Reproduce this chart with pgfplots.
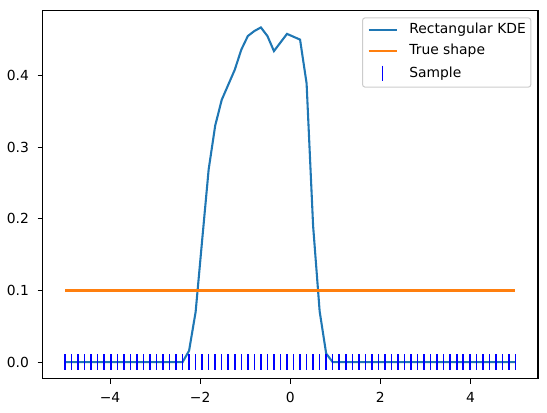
\documentclass[border=0pt]{standalone}
\usepackage{fontspec}
\setmainfont{DejaVu Sans}
\usepackage{pgfplots}
\pgfplotsset{compat=1.18}
\usetikzlibrary{calc}
\definecolor{c0}{HTML}{1F77B4}
\definecolor{c1}{HTML}{FF7F0E}
\pgfplotsset{
  linelegend/.style={legend image code/.code={\draw[##1] (0pt,0pt) -- (21pt,0pt);}},
  marklegend/.style={legend image code/.code={\draw[mark repeat=2,mark phase=2,##1] plot coordinates {(0pt,0pt) (10.5pt,0pt) (21pt,0pt)};}},
}
\begin{document}
\begin{tikzpicture}
\begin{axis}[
  scale only axis,
  width=371.6pt, height=276.2pt,
  xmin=-5.5, xmax=5.5, ymin=-0.0234, ymax=0.4904,
  axis line style={line width=0.83pt, black},
  tick align=outside,
  xtick pos=bottom, ytick pos=left,
  major tick length=3.65pt,
  every tick/.style={line width=0.83pt, black},
  xtick={-4,-2,0,2,4},
  xticklabels={−4,−2,0,2,4},
  ytick={0,0.1,0.2,0.3,0.4},
  yticklabels={0.0,0.1,0.2,0.3,0.4},
  xticklabel shift=3.0pt, yticklabel shift=3.0pt,
  tick label style={font=\fontsize{10.4}{12}\selectfont},
  /pgf/number format/assume math mode=true,
  legend style={at={(1,1)}, anchor=north east, xshift=-5pt, yshift=-5pt,
    draw=black!20, line width=0.75pt, rounded corners=2pt, fill=white,
    inner xsep=3.75pt, inner ysep=4.4pt, row sep=5.9pt, column sep=8.8pt,
    font=\fontsize{10.4}{12}\selectfont,
    nodes={inner sep=0pt, text height=7.6pt, text depth=2.2pt}},
  legend cell align=left,
]
\addplot[c0, line width=1.56pt, linelegend] coordinates {
(-5.0000,0) (-4.8551,0) (-4.7101,0) (-4.5652,0) (-4.4203,0) (-4.2754,0) (-4.1304,0) (-3.9855,0)
(-3.8406,0) (-3.6957,0) (-3.5507,0) (-3.4058,0) (-3.2609,0) (-3.1159,0) (-2.9710,0) (-2.8261,0)
(-2.6812,0) (-2.5362,0) (-2.3913,0) (-2.2464,0.016) (-2.1014,0.070) (-1.9565,0.170) (-1.8116,0.269)
(-1.6667,0.330) (-1.5217,0.366) (-1.3768,0.387) (-1.2319,0.408) (-1.0870,0.436) (-0.9420,0.455)
(-0.7971,0.462) (-0.6522,0.467) (-0.5072,0.455) (-0.3623,0.434) (-0.2174,0.446) (-0.0725,0.458)
(0.0725,0.454) (0.2174,0.450) (0.3623,0.389) (0.5072,0.190) (0.6522,0.071) (0.7971,0.012)
(0.9420,0) (1.0870,0) (1.2319,0) (1.3768,0) (1.5217,0) (1.6667,0) (1.8116,0) (1.9565,0)
(2.1014,0) (2.2464,0) (2.3913,0) (2.5362,0) (2.6812,0) (2.8261,0) (2.9710,0) (3.1159,0)
(3.2609,0) (3.4058,0) (3.5507,0) (3.6957,0) (3.8406,0) (3.9855,0) (4.1304,0) (4.2754,0)
(4.4203,0) (4.5652,0) (4.7101,0) (4.8551,0) (5.0000,0)
};
\addlegendentry{Rectangular KDE}
\addplot[c1, line width=1.56pt, linelegend] coordinates {(-5,0.1) (5,0.1)};
\addlegendentry{True shape}
\addplot[blue, only marks, mark=|, mark size=5.9pt, mark options={line width=1.15pt}, marklegend] coordinates {
(-5.0000,0) (-4.8551,0) (-4.7101,0) (-4.5652,0) (-4.4203,0) (-4.2754,0) (-4.1304,0) (-3.9855,0)
(-3.8406,0) (-3.6957,0) (-3.5507,0) (-3.4058,0) (-3.2609,0) (-3.1159,0) (-2.9710,0) (-2.8261,0)
(-2.6812,0) (-2.5362,0) (-2.3913,0) (-2.2464,0) (-2.1014,0) (-1.9565,0) (-1.8116,0)
(-1.6667,0) (-1.5217,0) (-1.3768,0) (-1.2319,0) (-1.0870,0) (-0.9420,0)
(-0.7971,0) (-0.6522,0) (-0.5072,0) (-0.3623,0) (-0.2174,0) (-0.0725,0)
(0.0725,0) (0.2174,0) (0.3623,0) (0.5072,0) (0.6522,0) (0.7971,0)
(0.9420,0) (1.0870,0) (1.2319,0) (1.3768,0) (1.5217,0) (1.6667,0) (1.8116,0) (1.9565,0)
(2.1014,0) (2.2464,0) (2.3913,0) (2.5362,0) (2.6812,0) (2.8261,0) (2.9710,0) (3.1159,0)
(3.2609,0) (3.4058,0) (3.5507,0) (3.6957,0) (3.8406,0) (3.9855,0) (4.1304,0) (4.2754,0)
(4.4203,0) (4.5652,0) (4.7101,0) (4.8551,0) (5.0000,0)
};
\addlegendentry{Sample}
\end{axis}
\pgfresetboundingbox
\path[use as bounding box] ($(current axis.south west)+(-31.9pt,-25.5pt)$) rectangle ($(current axis.north east)+(6.75pt,8pt)$);
\end{tikzpicture}
\end{document}
